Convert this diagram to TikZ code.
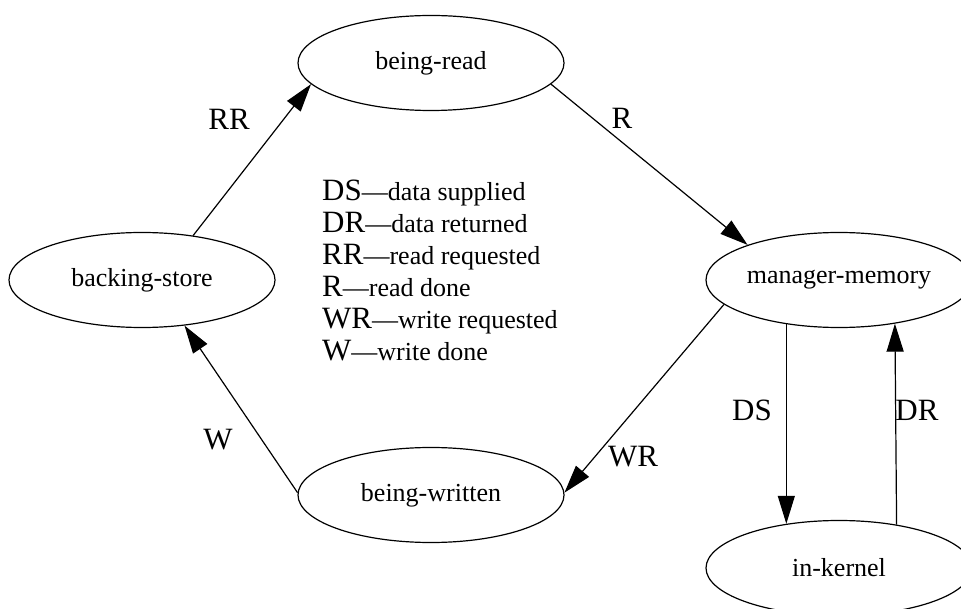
\documentclass[tikz,border=0pt]{standalone}
\usepackage{fontspec}
\setmainfont{Liberation Serif}
\usetikzlibrary{arrows.meta,shapes.geometric}
\begin{document}
\begin{tikzpicture}[x=1pt,y=-1pt,
  state/.style={draw,ellipse,minimum width=266pt,minimum height=95pt,inner sep=0pt,line width=1.2pt,font=\fontsize{26}{30}\selectfont},
  edge/.style={line width=1.2pt,-{Triangle[length=28pt,width=17pt]}},
  elabel/.style={font=\fontsize{31}{34}\selectfont,inner sep=0pt},
  legend/.style={anchor=base west,inner sep=0pt,font=\fontsize{26}{30}\selectfont},
  abbr/.style={}]
\useasboundingbox (0,0) rectangle (961,609);
\fill[white] (0,0) rectangle (961,609);
\clip (0,0) rectangle (961,609);

\node[state] (br) at (431,63) {being-read};
\node[state] (bs) at (142,280) {backing-store};
\node[state] (mm) at (839,280) {manager-memory};
\node[state] (bw) at (431,495) {being-written};
\node[state] (ik) at (839,568) {in-kernel};

\draw[edge] (bs.41) -- (br.190);
\draw[edge] (br.-10.5) -- (mm.159.6);
\draw[edge] (mm.192.2) -- (bw.1);
\draw[edge] (bw.179) -- (bs.-47);
\draw[edge] (mm.220) -- (ik.140);
\draw[edge] (ik.37) -- (mm.-38.8);

\node[elabel] (lrr) at (229,119) {RR};
\node[elabel] (lr) at (622,118) {R};
\node[elabel] (lw) at (218,440) {W};
\node[elabel] (lwr) at (633,457) {WR};
\node[elabel] (lds) at (752,410) {DS};
\node[elabel] (ldr) at (917,410) {DR};

\newcommand{\ab}[1]{{\fontsize{31}{34}\selectfont #1}}
\node[legend] (l1) at (322,201) {\ab{DS}—data supplied};
\node[legend] (l2) at (322,233) {\ab{DR}—data returned};
\node[legend] (l3) at (322,265) {\ab{RR}—read requested};
\node[legend] (l4) at (322,297) {\ab{R}—read done};
\node[legend] (l5) at (322,329) {\ab{WR}—write requested};
\node[legend] (l6) at (322,361) {\ab{W}—write done};
\end{tikzpicture}
\end{document}
